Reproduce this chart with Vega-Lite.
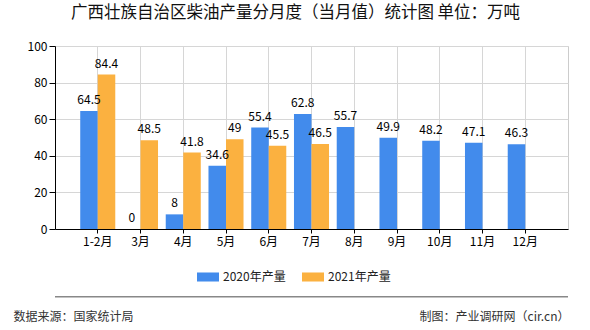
{
  "$schema": "https://vega.github.io/schema/vega-lite/v6.json",
  "width": 513,
  "height": 183,
  "autosize": {"type": "none"},
  "padding": {"left": 55, "top": 46, "right": 22, "bottom": 101},
  "background": "white",
  "config": {"font": "Noto Sans CJK SC", "view": {"stroke": "#cccccc"}},
  "title": {
    "text": "广西壮族自治区柴油产量分月度（当月值）统计图 单位：万吨",
    "fontSize": 16.5,
    "fontWeight": "normal",
    "color": "#111111",
    "anchor": "middle",
    "frame": "group",
    "dx": -16,
    "offset": 3,
    "baseline": "bottom"
  },
  "data": {
    "values": [
      {"月份": "1-2月", "系列": "2020年产量", "产量": 64.5},
      {"月份": "3月", "系列": "2020年产量", "产量": 0},
      {"月份": "4月", "系列": "2020年产量", "产量": 8},
      {"月份": "5月", "系列": "2020年产量", "产量": 34.6},
      {"月份": "6月", "系列": "2020年产量", "产量": 55.4},
      {"月份": "7月", "系列": "2020年产量", "产量": 62.8},
      {"月份": "8月", "系列": "2020年产量", "产量": 55.7},
      {"月份": "9月", "系列": "2020年产量", "产量": 49.9},
      {"月份": "10月", "系列": "2020年产量", "产量": 48.2},
      {"月份": "11月", "系列": "2020年产量", "产量": 47.1},
      {"月份": "12月", "系列": "2020年产量", "产量": 46.3},
      {"月份": "1-2月", "系列": "2021年产量", "产量": 84.4},
      {"月份": "3月", "系列": "2021年产量", "产量": 48.5},
      {"月份": "4月", "系列": "2021年产量", "产量": 41.8},
      {"月份": "5月", "系列": "2021年产量", "产量": 49},
      {"月份": "6月", "系列": "2021年产量", "产量": 45.5},
      {"月份": "7月", "系列": "2021年产量", "产量": 46.5}
    ]
  },
  "layer": [
    {
      "encoding": {
        "x": {
          "field": "月份",
          "type": "nominal",
          "sort": null,
          "scale": {"paddingInner": 0, "paddingOuter": 0.5},
          "axis": {
            "title": "数据来源：国家统计局",
            "titleX": -42,
            "titleY": 87,
            "titleAlign": "left",
            "titleBaseline": "middle",
            "titleFontSize": 12,
            "titleFontWeight": "normal",
            "titleColor": "#333333",
            "labelAngle": 0,
            "bandPosition": 0.5,
            "grid": true,
            "gridColor": "#d6d6d6",
            "domainColor": "#000000",
            "tickColor": "#000000",
            "tickSize": 4,
            "labelPadding": 3,
            "labelFontSize": 12,
            "labelColor": "#000000"
          }
        },
        "xOffset": {
          "field": "系列",
          "type": "nominal",
          "scale": {"paddingInner": 0, "paddingOuter": 0.22}
        },
        "y": {
          "field": "产量",
          "type": "quantitative",
          "scale": {"domain": [0, 100]},
          "axis": {
            "title": "制图：产业调研网（cir.cn）",
            "titleAngle": 0,
            "titleAlign": "right",
            "titleBaseline": "middle",
            "titleX": 514,
            "titleY": 270,
            "titleFontSize": 12,
            "titleFontWeight": "normal",
            "titleColor": "#333333",
            "values": [0, 20, 40, 60, 80, 100],
            "labelOverlap": false,
            "grid": true,
            "gridColor": "#d6d6d6",
            "domainColor": "#000000",
            "tickColor": "#000000",
            "tickSize": 6,
            "labelPadding": 2,
            "labelFontSize": 12,
            "labelColor": "#000000"
          }
        }
      },
      "layer": [
        {
          "mark": {"type": "bar"},
          "encoding": {
            "color": {
              "field": "系列",
              "type": "nominal",
              "scale": {"domain": ["2020年产量", "2021年产量"], "range": ["#428bec", "#fbb140"]},
              "legend": {
                "orient": "none",
                "legendX": 142,
                "legendY": 220,
                "direction": "horizontal",
                "title": null,
                "symbolType": "M-1,-0.41H1V0.41H-1Z",
                "symbolSize": 484,
                "symbolStrokeWidth": 0,
                "labelFontSize": 12,
                "labelColor": "#222222",
                "labelOffset": 4,
                "columnPadding": 16
              }
            }
          }
        },
        {
          "mark": {"type": "text", "baseline": "bottom", "dy": -4, "fontSize": 12, "color": "#000000"},
          "encoding": {
            "text": {"field": "产量", "type": "quantitative"}
          }
        }
      ]
    },
    {
      "data": {"values": [{"分隔": "footer"}]},
      "mark": {"type": "rule", "color": "#888888", "strokeWidth": 1.5},
      "encoding": {"y": {"datum": -37, "type": "quantitative", "scale": {"domain": [0, 100]}, "axis": null}}
    }
  ],
  "resolve": {"scale": {"y": "independent"}, "axis": {"y": "independent"}}
}
